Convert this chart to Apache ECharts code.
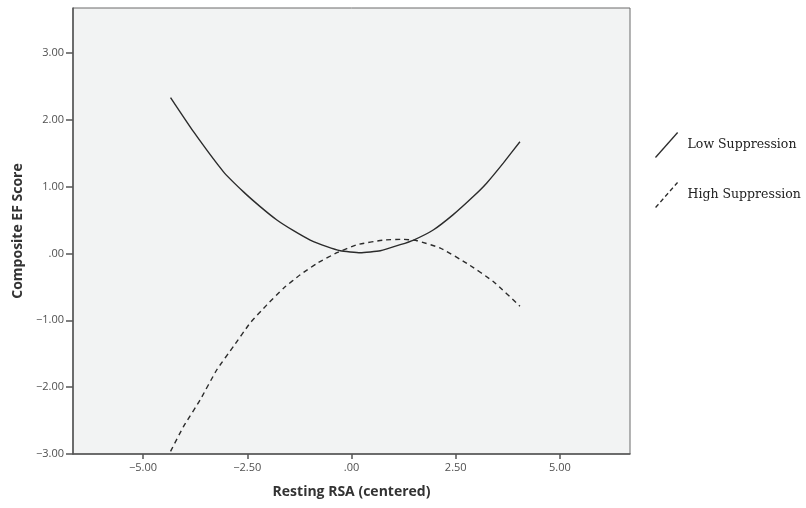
<!DOCTYPE html>
<html>
<head>
<meta charset="utf-8">
<script src="https://cdn.jsdelivr.net/npm/echarts@6/dist/echarts.min.js"></script>
<style>html,body{margin:0;padding:0;background:#fff}#c{width:806px;height:508px}</style>
</head>
<body>
<div id="c"></div>
<script>
// Data
var lowX  = [-4.34, -3.79, -3.07, -2.59, -2.19, -1.79, -1.39, -0.99, -0.59, -0.27, 0.21, 0.69, 1.17, 1.49, 1.96, 2.44, 2.92, 3.24, 3.64, 4.04];
var lowY  = [ 2.33,  1.82,  1.22,  0.92,  0.70,  0.50,  0.34,  0.20,  0.10,  0.04, 0.01, 0.04, 0.13, 0.20, 0.35, 0.58, 0.85, 1.05, 1.35, 1.67];
var highX = [-4.34, -4.03, -3.63, -3.23, -2.83, -2.43, -2.03, -1.63, -1.23, -0.83, -0.35, 0.13, 0.77, 1.25, 1.57, 2.13, 2.77, 3.40, 4.04];
var highY = [-2.96, -2.59, -2.19, -1.74, -1.39, -1.04, -0.77, -0.52, -0.32, -0.15, 0.01, 0.13, 0.20, 0.21, 0.19, 0.08, -0.15, -0.42, -0.79];
var xTicks = [-5, -2.5, 0, 2.5, 5];
var yTicks = [-3, -2, -1, 0, 1, 2, 3];
var seriesNames = ['Low Suppression', 'High Suppression'];

function fmt(v) {
  var s = Math.abs(v).toFixed(2);
  if (s.charAt(0) === '0') s = s.substring(1);
  return (v < 0 ? '\u2212' : '') + s;
}
function pairs(xs, ys) { return xs.map(function (x, i) { return [x, ys[i]]; }); }

var chart = echarts.init(document.getElementById('c'), null, {renderer: 'canvas'});
var axisFont = {fontFamily: 'Open Sans', fontSize: 11, color: '#505050'};
chart.setOption({
  animation: false,
  backgroundColor: '#ffffff',
  grid: {left: 73, top: 8, right: 176, bottom: 54, show: true, backgroundColor: '#f2f3f3', borderColor: '#6b6b6b', borderWidth: 1},
  legend: {
    orient: 'vertical', left: 650, top: 127, itemGap: 24, itemWidth: 24, itemHeight: 26,
    textStyle: {fontFamily: 'DejaVu Serif', fontSize: 12.5, color: '#222', padding: [0, 0, 0, 4]},
    data: [
      {name: seriesNames[0], icon: 'path://M0,26 L23,0 L24,1 L1,27 Z'},
      {name: seriesNames[1], icon: 'path://M0,26 L3,22.6 L4,23.6 L1,27 Z M5,20.3 L8,16.9 L9,17.9 L6,21.3 Z M10,14.6 L13,11.2 L14,12.2 L11,15.6 Z M15,8.9 L18,5.5 L19,6.5 L16,9.9 Z M20,3.2 L22.8,0 L23.8,1 L21,4.2 Z'}
    ]
  },
  xAxis: {
    type: 'value', min: -6.68, max: 6.68,
    name: 'Resting RSA (centered)', nameLocation: 'middle', nameGap: 31,
    nameTextStyle: {fontFamily: 'Open Sans', fontWeight: 'bold', fontSize: 14, color: '#333'},
    axisLine: {show: true, onZero: false, lineStyle: {color: '#555', width: 1.5}},
    axisTick: {show: true, length: 5, lineStyle: {color: '#555', width: 1.5}, customValues: xTicks},
    axisLabel: {customValues: xTicks, formatter: fmt, margin: 8, fontFamily: axisFont.fontFamily, fontSize: axisFont.fontSize, color: axisFont.color},
    splitLine: {show: false}
  },
  yAxis: {
    type: 'value', min: -3, max: 3.67,
    name: 'Composite EF Score', nameLocation: 'middle', nameGap: 48,
    nameTextStyle: {fontFamily: 'Open Sans', fontWeight: 'bold', fontSize: 14, color: '#333'},
    axisLine: {show: true, onZero: false, lineStyle: {color: '#555', width: 1.5}},
    axisTick: {show: true, length: 7, lineStyle: {color: '#555', width: 1.5}, customValues: yTicks},
    axisLabel: {customValues: yTicks, formatter: fmt, margin: 9, fontFamily: axisFont.fontFamily, fontSize: axisFont.fontSize, color: axisFont.color},
    splitLine: {show: false}
  },
  series: [
    {name: seriesNames[0], type: 'line', data: pairs(lowX, lowY), smooth: 0.15, showSymbol: false, symbol: 'none',
     itemStyle: {color: '#2b2b2b'}, lineStyle: {color: '#2b2b2b', width: 1.4, type: 'solid'}},
    {name: seriesNames[1], type: 'line', data: pairs(highX, highY), smooth: 0.15, showSymbol: false, symbol: 'none',
     itemStyle: {color: '#2b2b2b'}, lineStyle: {color: '#2b2b2b', width: 1.4, type: [5, 4]}}
  ]
});
</script>
</body>
</html>
